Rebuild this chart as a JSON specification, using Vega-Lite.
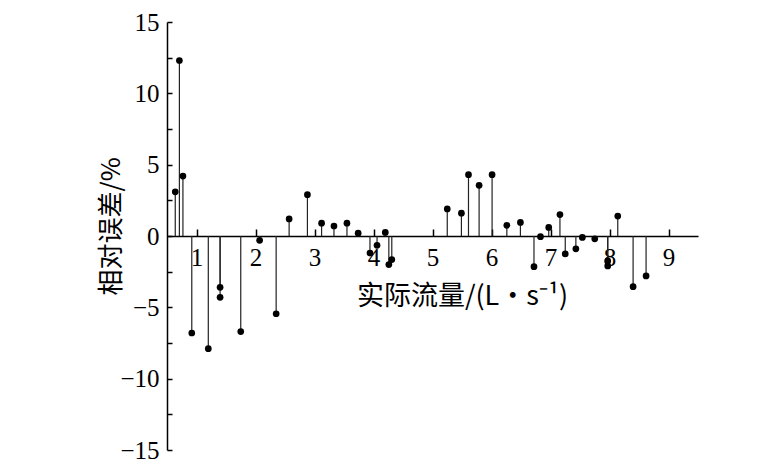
{
  "$schema": "https://vega.github.io/schema/vega-lite/v6.json",
  "width": 531,
  "height": 428,
  "autosize": "none",
  "padding": {"left": 167, "top": 22, "right": 59, "bottom": 19},
  "background": "white",
  "config": {"view": {"stroke": null}},
  "data": {"values": [
    {"flow": 0.64, "err": 3.1},
    {"flow": 0.71, "err": 12.3},
    {"flow": 0.77, "err": 4.2},
    {"flow": 0.92, "err": -6.8},
    {"flow": 1.20, "err": -7.9},
    {"flow": 1.40, "err": -3.6},
    {"flow": 1.40, "err": -4.3},
    {"flow": 1.75, "err": -6.7},
    {"flow": 2.07, "err": -0.3},
    {"flow": 2.35, "err": -5.45},
    {"flow": 2.57, "err": 1.2},
    {"flow": 2.88, "err": 2.9},
    {"flow": 3.12, "err": 0.9},
    {"flow": 3.33, "err": 0.7},
    {"flow": 3.55, "err": 0.9},
    {"flow": 3.74, "err": 0.2},
    {"flow": 3.94, "err": -1.2},
    {"flow": 4.06, "err": -0.65},
    {"flow": 4.20, "err": 0.25},
    {"flow": 4.26, "err": -2.0},
    {"flow": 4.31, "err": -1.65},
    {"flow": 5.25, "err": 1.9},
    {"flow": 5.49, "err": 1.6},
    {"flow": 5.61, "err": 4.3},
    {"flow": 5.79, "err": 3.55},
    {"flow": 6.01, "err": 4.3},
    {"flow": 6.26, "err": 0.75},
    {"flow": 6.49, "err": 0.95},
    {"flow": 6.72, "err": -2.15},
    {"flow": 6.83, "err": -0.05},
    {"flow": 6.97, "err": 0.6},
    {"flow": 7.16, "err": 1.5},
    {"flow": 7.25, "err": -1.25},
    {"flow": 7.43, "err": -0.9},
    {"flow": 7.54, "err": -0.1},
    {"flow": 7.75, "err": -0.2},
    {"flow": 7.97, "err": -1.75},
    {"flow": 7.97, "err": -2.1},
    {"flow": 8.14, "err": 1.4},
    {"flow": 8.40, "err": -3.55},
    {"flow": 8.62, "err": -2.8}
  ]},
  "encoding": {
    "x": {
      "field": "flow", "type": "quantitative",
      "scale": {"domain": [0.5, 9.5], "nice": false, "zero": false},
      "axis": {
        "title": "实际流量/(L·s⁻¹)",
        "values": [1, 2, 3, 4, 5, 6, 7, 8, 9],
        "offset": -214,
        "grid": false,
        "domainColor": "black", "domainWidth": 1.5,
        "tickColor": "black", "tickSize": -7, "tickWidth": 1.5,
        "labelPadding": 16,
        "labelFont": "Times New Roman", "labelFontSize": 25, "labelColor": "black",
        "titleFont": "Noto Sans CJK SC", "titleFontSize": 27, "titleFontWeight": "normal", "titleColor": "black",
        "titleX": 295, "titleY": 60, "titleAlign": "center", "titleBaseline": "middle"
      }
    },
    "y": {
      "field": "err", "type": "quantitative",
      "scale": {"domain": [-15, 15], "nice": false},
      "axis": {
        "title": "相对误差/%",
        "values": [-15, -12.5, -10, -7.5, -5, -2.5, 0, 2.5, 5, 7.5, 10, 12.5, 15],
        "labelExpr": "datum.value % 5 == 0 ? datum.label : ''",
        "grid": false,
        "domainColor": "black", "domainWidth": 1.5,
        "tickColor": "black", "tickSize": -5, "tickWidth": 1.5,
        "labelPadding": 13,
        "labelFont": "Times New Roman", "labelFontSize": 25, "labelColor": "black",
        "titleFont": "Noto Sans CJK SC", "titleFontSize": 26, "titleFontWeight": "normal", "titleColor": "black",
        "titleX": -56, "titleY": 204, "titleAlign": "center", "titleBaseline": "middle", "titleAngle": -90
      }
    }
  },
  "layer": [
    {
      "mark": {"type": "rule", "color": "#222", "strokeWidth": 1.2},
      "encoding": {"y2": {"datum": 0}}
    },
    {
      "mark": {"type": "point", "filled": true, "color": "black", "size": 45, "opacity": 1}
    }
  ]
}
